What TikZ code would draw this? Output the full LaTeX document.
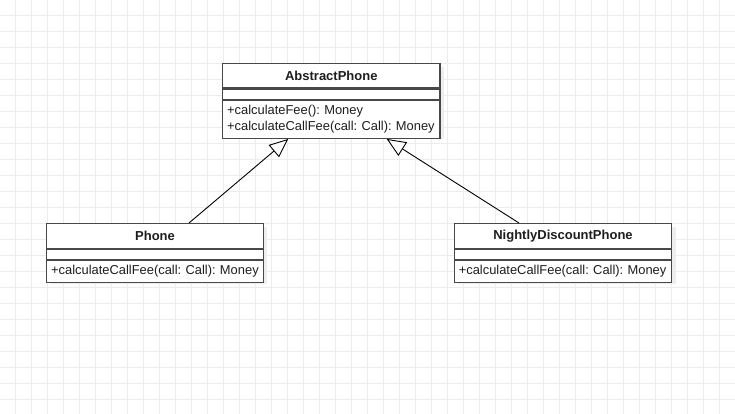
\documentclass[tikz,border=0pt]{standalone}
\usepackage{fontspec}
\setmainfont{Liberation Sans}
\usetikzlibrary{arrows.meta,positioning}
\definecolor{gridc}{RGB}{236,236,236}
\definecolor{boxc}{RGB}{72,72,72}
\definecolor{shadc}{RGB}{238,238,238}
\definecolor{txtc}{RGB}{30,30,30}
\hfuzz=20pt
\tikzset{
  comp/.style={draw=boxc, line width=1.3pt, fill=white, rectangle, inner sep=0pt, minimum width=#1, anchor=north, text=txtc},
  hdr/.style={comp=#1, font=\fontsize{13}{15}\selectfont\bfseries},
  mth/.style={comp=#1, text width=#1-9pt, align=left, inner xsep=4.5pt, font=\fontsize{12.9}{15.6}\selectfont\frenchspacing},
  inh/.style={draw=black, line width=0.9pt, -{Triangle[fill=white, length=19pt, width=16pt, line width=0.9pt]}},
  shad/.style={fill=shadc, draw=none}
}
\begin{document}
\begin{tikzpicture}[x=1pt,y=-1pt]
\useasboundingbox (0,0) rectangle (735,414);
\fill[white] (0,0) rectangle (735,414);
\foreach \i in {0,...,45} \draw[gridc, line width=0.9pt] (15+16*\i,0) -- (15+16*\i,414);
\foreach \j in {0,...,25} \draw[gridc, line width=0.9pt] (0,15+16*\j) -- (735,15+16*\j);
% shadows
\fill[shad] (226.7,67) rectangle (444,139.5);
\fill[shad] (50.7,227) rectangle (267.3,283.5);
\fill[shad] (458.3,227) rectangle (675.7,283.5);
% AbstractPhone
\node[hdr=217.3pt, minimum height=24.3pt] (absh) at (331.3,63) {AbstractPhone};
\node[comp=217.3pt, minimum height=10pt] (absa) at (absh.south) {};
\node[mth=217.3pt, minimum height=37.7pt] (absm) at (absa.south) {\mbox{+calculateFee(): Money}\\\mbox{+calculateCallFee(call: Call): Money}};
% Phone
\node[hdr=216.6pt, minimum height=24.7pt] (phh) at (155,223) {Phone};
\node[comp=216.6pt, minimum height=9.6pt] (pha) at (phh.south) {};
\node[mth=216.6pt, minimum height=22pt] (phm) at (pha.south) {\mbox{+calculateCallFee(call: Call): Money}};
% NightlyDiscountPhone
\node[hdr=217.4pt, minimum height=24.7pt] (ndh) at (563,223) {NightlyDiscountPhone};
\node[comp=217.4pt, minimum height=9.6pt] (nda) at (ndh.south) {};
\node[mth=217.4pt, minimum height=22pt] (ndm) at (nda.south) {\mbox{+calculateCallFee(call: Call): Money}};
% inheritance
\draw[inh] ([xshift=34pt]phh.north) -- ([xshift=-43pt]absm.south);
\draw[inh] ([xshift=-44pt]ndh.north) -- ([xshift=55.4pt]absm.south);
\end{tikzpicture}
\end{document}
